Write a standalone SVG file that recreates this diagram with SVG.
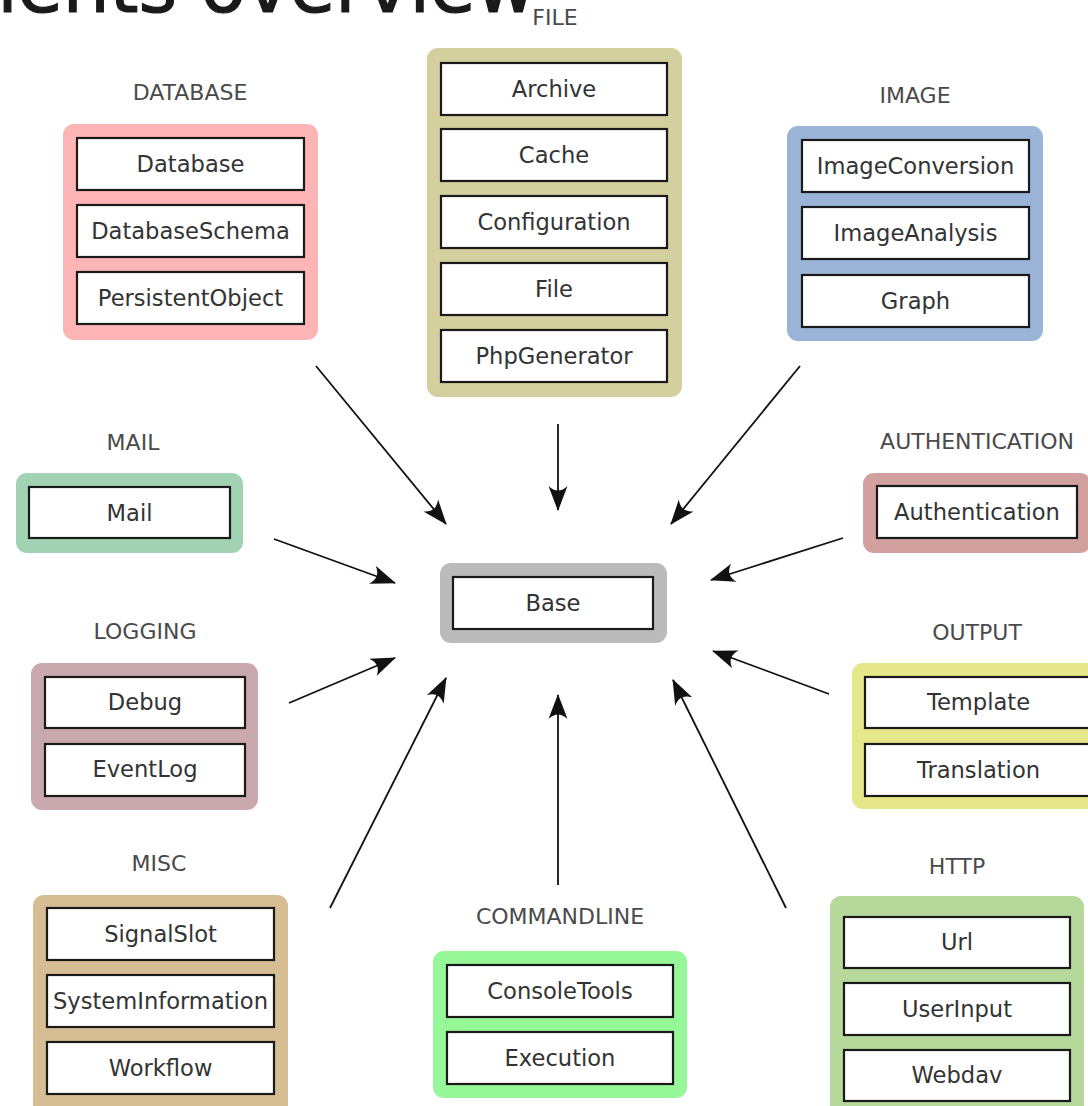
<svg xmlns="http://www.w3.org/2000/svg" width="1088" height="1106" viewBox="0 0 1088 1106">
<defs>
<style>
.grp{stroke:none}
.box{fill:#fff;stroke:#1a1a1a;stroke-width:2.2}
.t{font-family:"DejaVu Sans",sans-serif;font-size:22.6px;fill:#333;text-anchor:middle}
.g{font-family:"DejaVu Sans",sans-serif;font-size:22px;fill:#4a4a4a;text-anchor:middle}
.c{stroke:#111;stroke-width:1.8;fill:none;marker-end:url(#ah)}
</style>
<marker id="ah" markerUnits="userSpaceOnUse" viewBox="-26 -11 28 22" refX="0" refY="0" markerWidth="28" markerHeight="22" orient="auto">
<path d="M1,0 L-24,-9.5 C-18,-3 -18,3 -24,9.5 Z" fill="#111"/>
</marker>
</defs>
<rect width="1088" height="1106" fill="#fff"/>
<text x="-291" y="12" font-family="DejaVu Sans, sans-serif" font-size="74" fill="#1a1a1a" stroke="#1a1a1a" stroke-width="1.2">Components overview</text>

<g id="connectors">
<line class="c" x1="316" y1="366" x2="446" y2="524"/>
<line class="c" x1="558" y1="424" x2="558" y2="510"/>
<line class="c" x1="800" y1="366" x2="671" y2="524"/>
<line class="c" x1="274" y1="539" x2="395" y2="583"/>
<line class="c" x1="843" y1="538" x2="711" y2="580"/>
<line class="c" x1="289" y1="703" x2="395" y2="658"/>
<line class="c" x1="829" y1="694" x2="713" y2="651"/>
<line class="c" x1="330" y1="908" x2="446" y2="678"/>
<line class="c" x1="558" y1="885" x2="558" y2="695"/>
<line class="c" x1="786" y1="908" x2="673" y2="680"/>
</g>

<g id="database">
<text class="g" x="190" y="100">DATABASE</text>
<rect x="63" y="124" width="255" height="216" rx="11" fill="#ffb5b5"/>
<rect class="box" x="77" y="138" width="227" height="52"/>
<text class="t" x="190.5" y="172">Database</text>
<rect class="box" x="77" y="205" width="227" height="52"/>
<text class="t" x="190.5" y="239">DatabaseSchema</text>
<rect class="box" x="77" y="272" width="227" height="52"/>
<text class="t" x="190.5" y="306">PersistentObject</text>
</g>

<g id="file">
<text class="g" x="555" y="25">FILE</text>
<rect x="427" y="48" width="255" height="349" rx="11" fill="#d3cf9e"/>
<rect class="box" x="441" y="63" width="226" height="52"/>
<text class="t" x="554" y="97">Archive</text>
<rect class="box" x="441" y="129" width="226" height="52"/>
<text class="t" x="554" y="163">Cache</text>
<rect class="box" x="441" y="196" width="226" height="52"/>
<text class="t" x="554" y="230">Configuration</text>
<rect class="box" x="441" y="263" width="226" height="52"/>
<text class="t" x="554" y="297">File</text>
<rect class="box" x="441" y="330" width="226" height="52"/>
<text class="t" x="554" y="364">PhpGenerator</text>
</g>

<g id="image">
<text class="g" x="915" y="103">IMAGE</text>
<rect x="787" y="126" width="256" height="215" rx="11" fill="#9ab4d8"/>
<rect class="box" x="802" y="140" width="227" height="52"/>
<text class="t" x="915.5" y="174">ImageConversion</text>
<rect class="box" x="802" y="207" width="227" height="52"/>
<text class="t" x="915.5" y="241">ImageAnalysis</text>
<rect class="box" x="802" y="275" width="227" height="52"/>
<text class="t" x="915.5" y="309">Graph</text>
</g>

<g id="mail">
<text class="g" x="133" y="450">MAIL</text>
<rect x="16" y="473" width="227" height="80" rx="11" fill="#a1d3b3"/>
<rect class="box" x="29" y="487" width="201" height="51"/>
<text class="t" x="129.5" y="521">Mail</text>
</g>

<g id="authentication">
<text class="g" x="977" y="449">AUTHENTICATION</text>
<rect x="863" y="473" width="228" height="80" rx="11" fill="#d3a0a0"/>
<rect class="box" x="877" y="486" width="200" height="52"/>
<text class="t" x="977" y="520">Authentication</text>
</g>

<g id="base">
<rect x="440" y="563" width="227" height="80" rx="11" fill="#bbbbbb"/>
<rect class="box" x="453" y="577" width="200" height="52"/>
<text class="t" x="553" y="611">Base</text>
</g>

<g id="logging">
<text class="g" x="145" y="639">LOGGING</text>
<rect x="31" y="663" width="227" height="147" rx="11" fill="#c9a9ae"/>
<rect class="box" x="45" y="677" width="200" height="51"/>
<text class="t" x="145" y="710">Debug</text>
<rect class="box" x="45" y="744" width="200" height="52"/>
<text class="t" x="145" y="777">EventLog</text>
</g>

<g id="output">
<text class="g" x="977" y="640">OUTPUT</text>
<rect x="852" y="663" width="256" height="146" rx="11" fill="#e5e78a"/>
<rect class="box" x="865" y="677" width="227" height="51"/>
<text class="t" x="978.5" y="710">Template</text>
<rect class="box" x="865" y="744" width="227" height="52"/>
<text class="t" x="978.5" y="778">Translation</text>
</g>

<g id="misc">
<text class="g" x="159" y="871">MISC</text>
<rect x="33" y="895" width="255" height="228" rx="11" fill="#d7bd94"/>
<rect class="box" x="47" y="908" width="227" height="52"/>
<text class="t" x="160.5" y="942">SignalSlot</text>
<rect class="box" x="47" y="975" width="227" height="52"/>
<text class="t" x="160.5" y="1009">SystemInformation</text>
<rect class="box" x="47" y="1042" width="227" height="52"/>
<text class="t" x="160.5" y="1076">Workflow</text>
</g>

<g id="commandline">
<text class="g" x="560" y="924">COMMANDLINE</text>
<rect x="433" y="951" width="254" height="147" rx="11" fill="#96f799"/>
<rect class="box" x="447" y="965" width="226" height="52"/>
<text class="t" x="560" y="999">ConsoleTools</text>
<rect class="box" x="447" y="1032" width="226" height="52"/>
<text class="t" x="560" y="1066">Execution</text>
</g>

<g id="http">
<text class="g" x="957" y="874">HTTP</text>
<rect x="830" y="896" width="254" height="230" rx="11" fill="#b6d99b"/>
<rect class="box" x="844" y="917" width="226" height="51"/>
<text class="t" x="957" y="950">Url</text>
<rect class="box" x="844" y="983" width="226" height="52"/>
<text class="t" x="957" y="1017">UserInput</text>
<rect class="box" x="844" y="1050" width="226" height="51"/>
<text class="t" x="957" y="1083">Webdav</text>
</g>
</svg>
